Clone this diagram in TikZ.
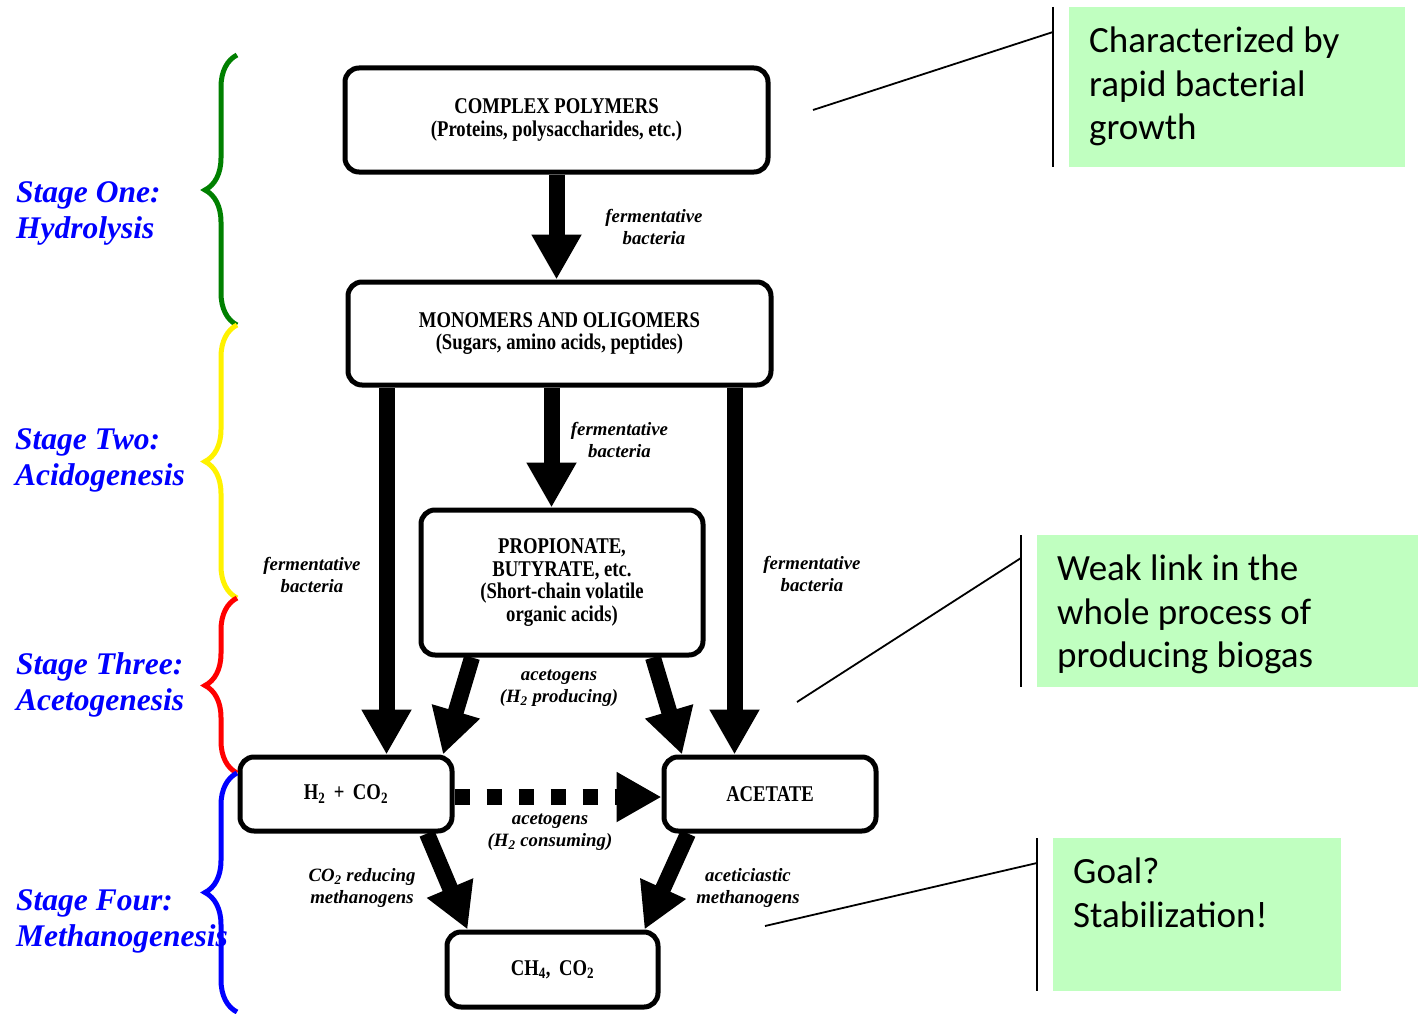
\documentclass[tikz,border=0pt]{standalone}
\usepackage{fontspec}
\setmainfont{Liberation Serif}
\newfontfamily\boxfont[FakeStretch=0.83]{Liberation Serif}
\newfontfamily\notefont{Carlito}
\usetikzlibrary{arrows.meta,decorations.pathreplacing}
\definecolor{noteGreen}{RGB}{192,255,192}
\definecolor{braceGreen}{RGB}{0,128,0}

\begin{document}
\begin{tikzpicture}[x = 1pt, y = -1pt]
\tikzstyle{BoxStyle}=[draw, line width = 5pt, rounded corners = 14pt,
                      align = center, inner sep = 0pt,
                      font = \boxfont\bfseries\fontsize{22.5}{22.5}\selectfont]
\tikzstyle{FlowStyle}=[line width = 16pt, -{Triangle[length = 45pt, width = 47pt]}]
\tikzstyle{LabelStyle}=[align = center, font = \bfseries\itshape\fontsize{18.8}{22}\selectfont]
\tikzstyle{StageStyle}=[anchor = north west, align = left, inner sep = 0pt, text = blue,
                        font = \bfseries\itshape\fontsize{31.5}{36}\selectfont]
\tikzstyle{BraceStyle}=[line width = 5pt, decorate, decoration = {brace, amplitude = 32pt}]
\tikzstyle{NoteStyle}=[fill = noteGreen, anchor = north west, inner sep = 0pt]
\tikzstyle{NoteText}=[anchor = north west, align = left, inner sep = 0pt,
                      font = \notefont\fontsize{37}{43.5}\selectfont]
\tikzstyle{LeaderStyle}=[line width = 1.8pt]

\useasboundingbox (0,0) rectangle (1418,1014);

% process boxes
\node[BoxStyle, minimum width = 423pt, minimum height = 104pt] (poly) at (556.5,120)
  {COMPLEX POLYMERS\\(Proteins, polysaccharides, etc.)};
\node[BoxStyle, minimum width = 423pt, minimum height = 103pt] (mono) at (559.5,333.5)
  {MONOMERS AND OLIGOMERS\\(Sugars, amino acids, peptides)};
\node[BoxStyle, minimum width = 282pt, minimum height = 145pt] (acids) at (562,582.5)
  {PROPIONATE,\\BUTYRATE, etc.\\(Short-chain volatile\\organic acids)};
\node[BoxStyle, minimum width = 212pt, minimum height = 74pt] (hydro) at (346,794)
  {H\textsubscript{2} \,+\, CO\textsubscript{2}};
\node[BoxStyle, minimum width = 212pt, minimum height = 74pt] (acet) at (770,794)
  {ACETATE};
\node[BoxStyle, minimum width = 211pt, minimum height = 75pt] (gas) at (552.5,969.5)
  {CH\textsubscript{4},\, CO\textsubscript{2}};

% flows
\draw[FlowStyle] (poly.south) -- (poly.south |- mono.north);
\draw[FlowStyle] ([xshift = -8pt]mono.south) -- ([xshift = -8pt]mono.south |- acids.north);
\draw[FlowStyle] ([xshift = 41pt]mono.south west) -- ([xshift = 41pt]mono.south west |- hydro.north);
\draw[FlowStyle] ([xshift = -39pt]mono.south east) -- ([xshift = -39pt]mono.south east |- acet.north);
\draw[FlowStyle] ([xshift = -90pt]acids.south) -- ([xshift = 97pt]hydro.north);
\draw[FlowStyle] ([xshift = 91pt]acids.south) -- ([xshift = -88pt]acet.north);
\draw[FlowStyle, dash pattern = on 15pt off 17pt] ([yshift = -3pt]hydro.east) -- ([yshift = -3pt]acet.west);
\draw[FlowStyle] ([xshift = 81pt]hydro.south) -- ([xshift = -85pt]gas.north);
\draw[FlowStyle] ([xshift = -82pt]acet.south) -- ([xshift = 92pt]gas.north);

% organisms
\node[LabelStyle] (ferm1) at (654,226.5) {fermentative\\bacteria};
\node[LabelStyle] (ferm2) at (619.5,440) {fermentative\\bacteria};
\node[LabelStyle] (ferm3) at (312,575) {fermentative\\bacteria};
\node[LabelStyle] (ferm4) at (812,574) {fermentative\\bacteria};
\node[LabelStyle] (aceto1) at (559,688) {acetogens\\(H\textsubscript{2} producing)};
\node[LabelStyle] (aceto2) at (550,832) {acetogens\\(H\textsubscript{2} consuming)};
\node[LabelStyle] (meth1) at (362,888) {CO\textsubscript{2} reducing\\methanogens};
\node[LabelStyle] (meth2) at (748,888) {aceticiastic\\methanogens};

% stages
\node[StageStyle] (stage1) at (16,181) {Stage One:\\Hydrolysis};
\node[StageStyle] (stage2) at (15,428) {Stage Two:\\Acidogenesis};
\node[StageStyle] (stage3) at (16,652) {Stage Three:\\Acetogenesis};
\node[StageStyle] (stage4) at (16,889) {Stage Four:\\Methanogenesis};
\draw[BraceStyle, braceGreen] (237,325) -- (237,55);
\draw[BraceStyle, yellow] (237,598) -- (237,325);
\draw[BraceStyle, red] (237,773) -- (237,598);
\draw[BraceStyle, blue] (237,1012) -- (237,773);

% notes
\node[NoteStyle, minimum width = 336pt, minimum height = 160pt] (noteA) at (1069,7) {};
\node[NoteText] (textA) at ([shift = {(20,20)}]noteA.north west)
  {Characterized by\\rapid bacterial\\growth};
\node[NoteStyle, minimum width = 381pt, minimum height = 152pt] (noteB) at (1037,535) {};
\node[NoteText] (textB) at ([shift = {(20,20)}]noteB.north west)
  {Weak link in the\\whole process of\\producing biogas};
\node[NoteStyle, minimum width = 288pt, minimum height = 153pt] (noteC) at (1053,838) {};
\node[NoteText] (textC) at ([shift = {(20,20)}]noteC.north west)
  {Goal?\\Stabilization!};

\coordinate (pinA) at (813,110);
\coordinate (pinB) at (797,702);
\coordinate (pinC) at (765,926);
\draw[LeaderStyle] ([xshift = -16pt]noteA.north west) -- ([xshift = -16pt]noteA.south west);
\draw[LeaderStyle] (pinA) -- ([shift = {(-16,25)}]noteA.north west);
\draw[LeaderStyle] ([xshift = -16pt]noteB.north west) -- ([xshift = -16pt]noteB.south west);
\draw[LeaderStyle] (pinB) -- ([shift = {(-16,23)}]noteB.north west);
\draw[LeaderStyle] ([xshift = -16pt]noteC.north west) -- ([xshift = -16pt]noteC.south west);
\draw[LeaderStyle] (pinC) -- ([shift = {(-16,25)}]noteC.north west);
\end{tikzpicture}
\end{document}
